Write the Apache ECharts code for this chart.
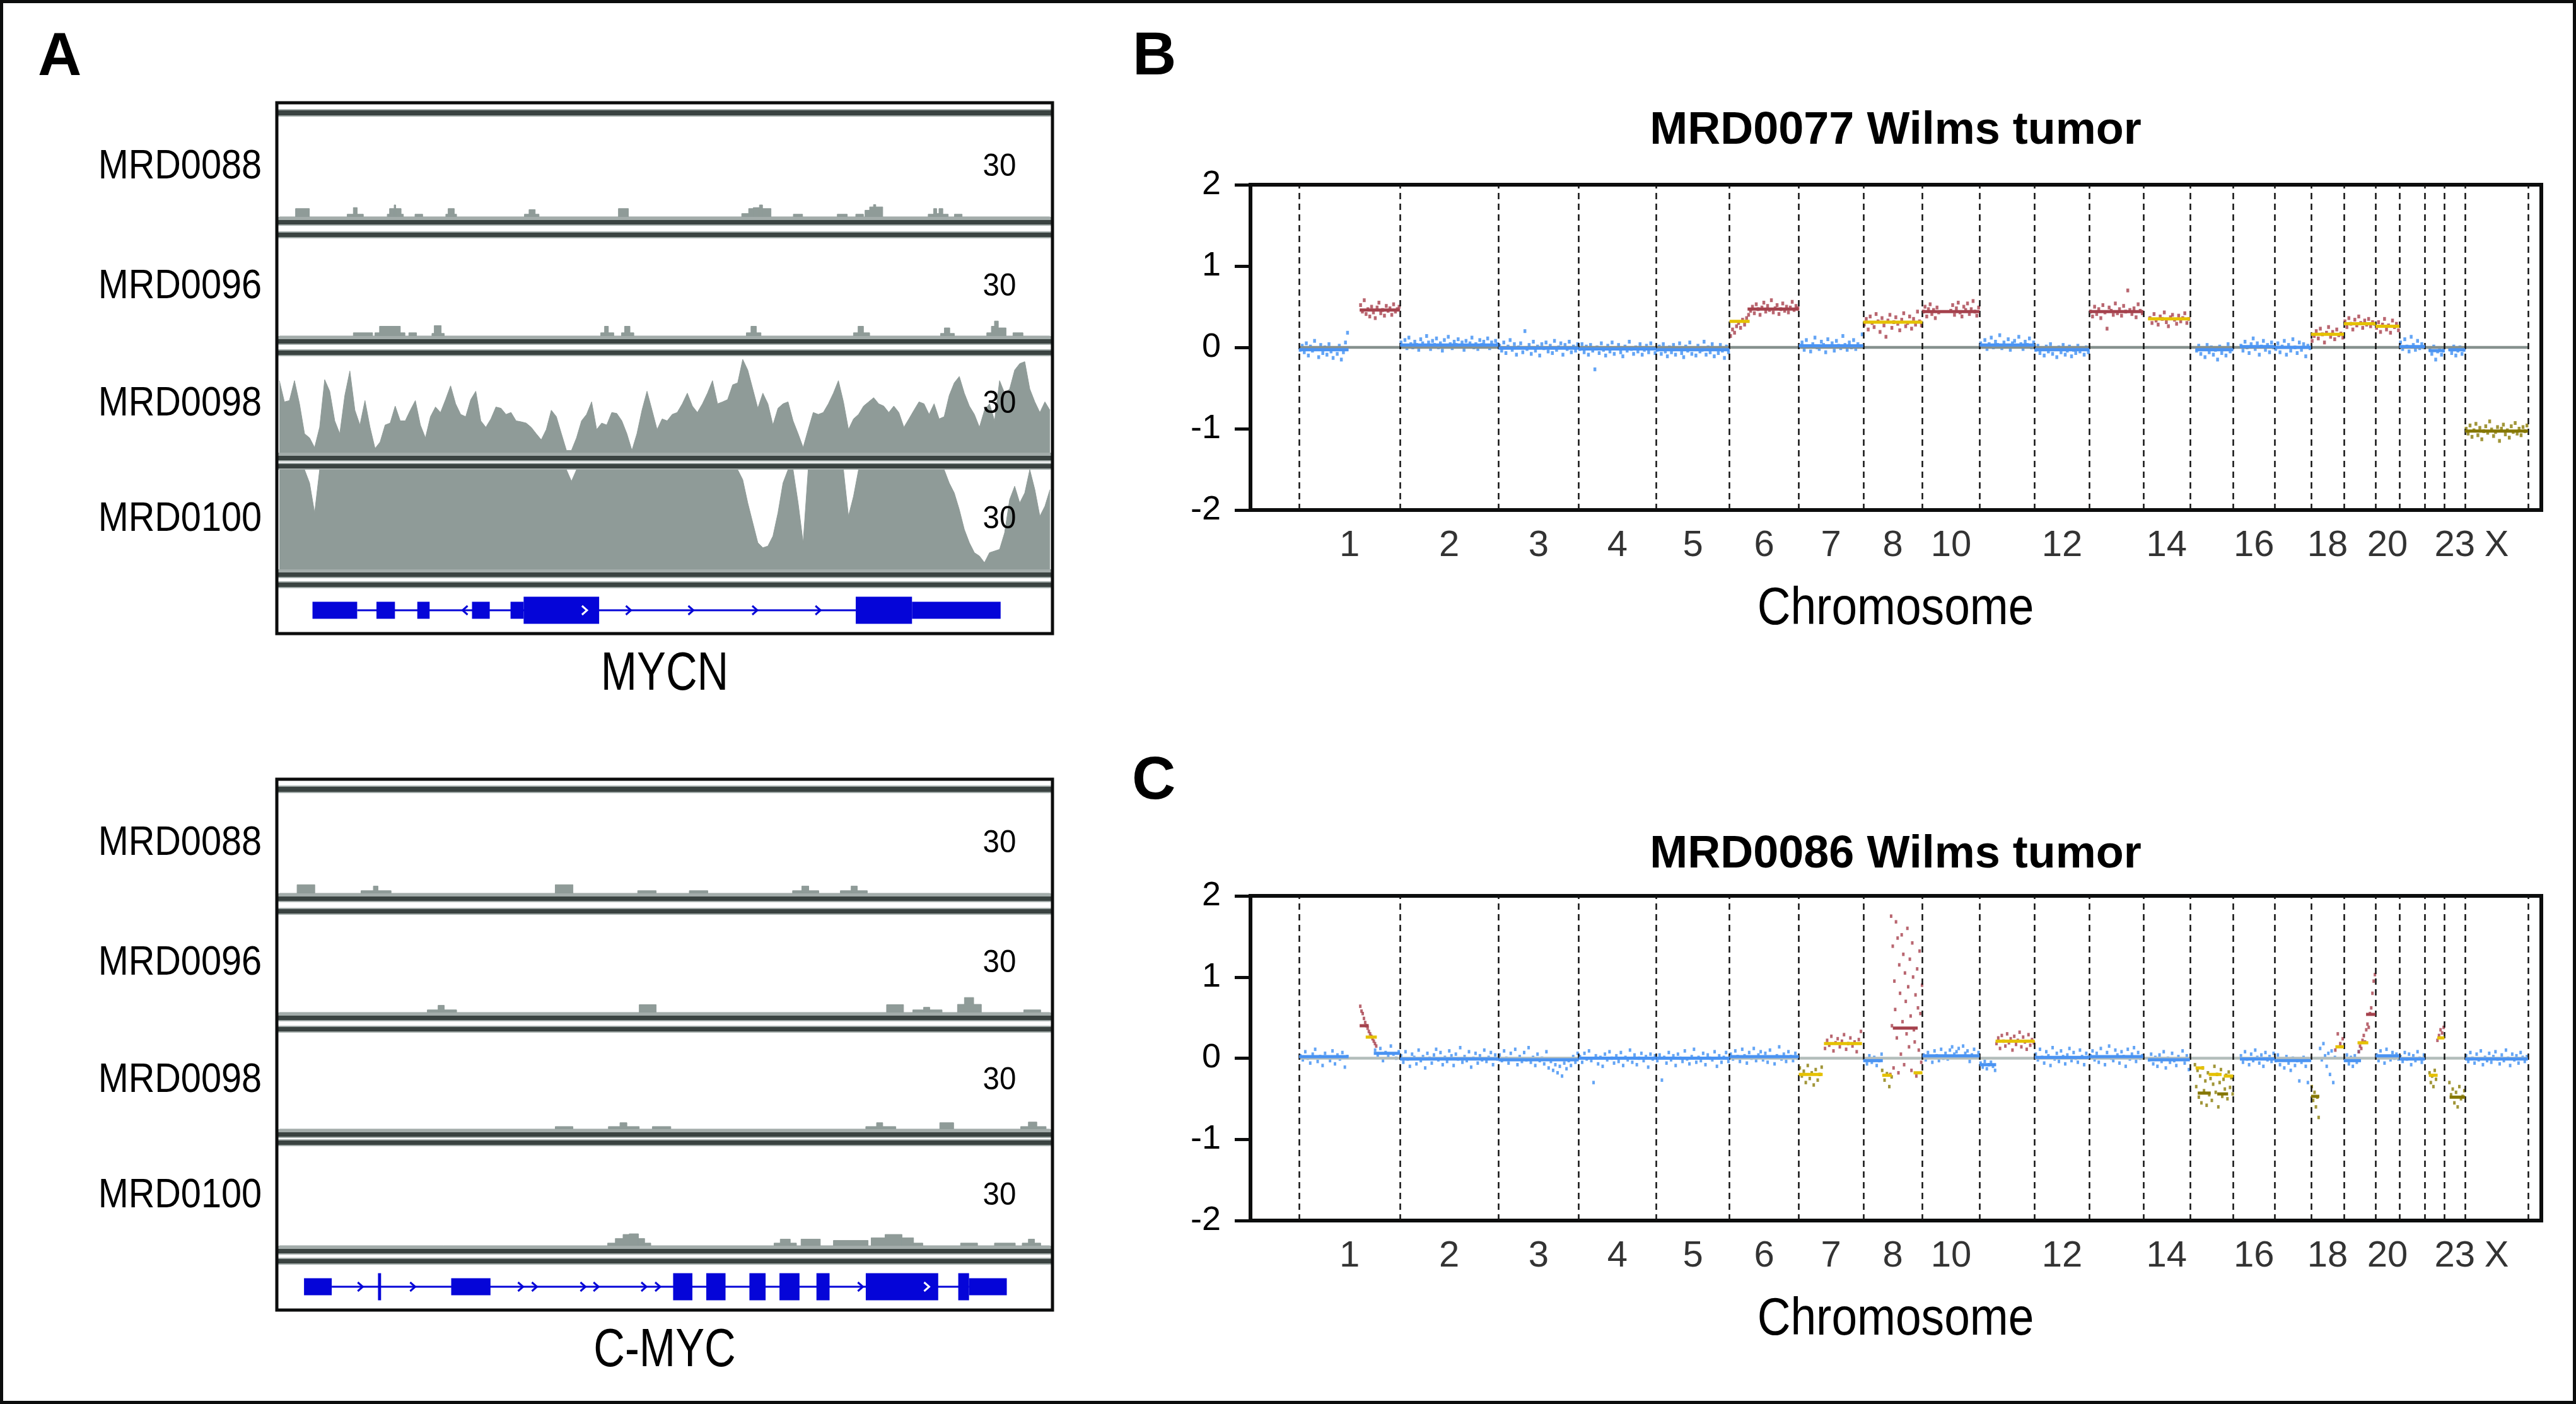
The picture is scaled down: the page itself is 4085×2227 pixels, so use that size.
<!DOCTYPE html>
<html><head><meta charset="utf-8"><title>Figure</title>
<script src="https://cdn.jsdelivr.net/npm/echarts@6.0.0/dist/echarts.min.js"></script>
<style>html,body{margin:0;padding:0;background:#fff;}#chart{width:4085px;height:2227px;}</style>
</head><body><div id="chart"></div><script>
// ================= DATA =================
// Panel A: coverage tracks (IGV, data range 0-30), x = 0..100 across the window
const trackNames = ['MRD0088', 'MRD0096', 'MRD0098', 'MRD0100'];
const scaleLabel = '30';
const geneNames = ['MYCN', 'C-MYC'];

// sparse coverage as [start, end, depth]
const mycnBumps88 = [[2.1,3.9,2.5],[8.8,9.6,0.8],[9.6,10.1,2.8],[10.1,10.9,0.8],[14.0,14.3,0.8],[14.3,14.9,2.5],[14.9,15.1,3.6],[15.1,15.8,2.5],[15.8,16.1,0.8],[17.6,18.6,0.8],[21.6,21.9,0.8],[21.9,22.7,2.5],[22.7,23.0,0.8],[31.8,32.4,0.8],[32.4,33.2,2.2],[33.2,33.7,0.8],[44.0,45.3,2.5],[60.0,60.9,1.0],[60.9,61.5,2.5],[61.5,62.3,2.8],[62.3,62.7,3.6],[62.7,63.8,2.5],[66.7,67.9,0.8],[72.4,73.7,0.8],[74.8,75.8,0.8],[76.0,76.6,2.0],[76.6,77.1,3.0],[77.1,77.4,3.7],[77.4,78.3,3.0],[84.2,84.9,0.8],[84.9,85.3,2.5],[85.3,85.6,1.0],[85.6,86.1,2.5],[86.1,86.8,0.8],[87.6,88.6,0.8]];
const mycnBumps96 = [[9.6,12.1,1.0],[12.4,13.0,1.0],[13.0,15.7,3.0],[15.7,16.3,1.0],[16.8,17.8,1.0],[19.8,20.1,0.8],[20.1,21.0,3.2],[21.0,21.4,0.8],[41.7,42.2,1.0],[42.2,42.7,3.0],[42.7,43.4,1.0],[44.4,44.8,1.0],[44.8,45.5,3.0],[45.5,46.0,1.0],[60.6,61.2,1.0],[61.2,61.9,3.0],[61.9,62.5,1.0],[74.5,75.1,1.0],[75.1,75.8,3.0],[75.8,76.6,1.0],[85.8,86.3,0.8],[86.3,87.0,2.5],[87.0,87.6,0.8],[91.8,92.4,1.0],[92.4,92.8,3.0],[92.8,93.3,4.6],[93.3,94.3,2.5],[95.2,96.5,1.0]];
// dense coverage, evenly spaced along the window
const mycnDense98 = [22.4,15.8,16.2,22.4,15.2,5.9,4.6,1.6,7.9,22.7,19.1,9.9,5.9,17.8,25.4,13.2,8.6,16.2,7.9,1.3,3.3,8.6,9.2,14.5,9.9,9.9,13.2,16.2,8.6,4.6,11.2,14.2,12.5,16.5,20.8,15.2,11.9,11.2,16.5,19.1,9.9,7.9,10.5,14.2,13.8,11.9,12.5,9.9,9.6,9.2,7.9,5.9,4.0,7.2,13.2,11.2,5.9,0.7,0.7,4.6,9.9,11.9,15.8,7.2,9.2,8.6,12.5,12.2,9.9,5.9,0.7,5.9,13.2,19.1,13.2,7.2,10.5,9.9,11.9,12.5,15.2,18.5,14.5,12.5,15.2,18.5,22.4,15.2,15.8,16.5,21.1,21.7,29.0,25.7,19.8,13.8,18.5,15.2,8.6,13.8,15.2,15.8,9.9,5.9,1.6,7.2,12.5,11.9,12.5,15.2,18.5,22.4,15.8,7.2,10.5,11.9,14.5,15.8,17.1,15.2,14.5,12.5,14.5,12.5,7.9,10.5,13.2,15.8,15.2,11.9,15.2,10.5,11.2,17.8,21.7,23.7,18.5,14.5,11.9,7.9,13.2,15.2,9.9,22.4,18.5,19.8,25.7,27.7,28.3,19.8,15.8,12.5,15.8,13.2];
const mycnDense100 = [30,30,30,30,30,30,26,17,30,30, 30,30,30,30,30,30,30,30,30,30, 30,30,30,30,30,30,30,30,30,30, 30,30,30,30,30,30,30,30,30,30, 30,30,30,30,30,30,30,30,30,30, 30,30,30,30,30,30,30,30,26.5,30, 30,30,30,30,30,30,30,30,30,30, 30,30,30,30,30,30,30,30,30,30, 30,30,30,30,30,30,30,30,30,30, 30,30,27,20,14,8,6.5,7,10,17, 26,30,30,20,8,30,30,30,30,30, 30,30,30,16,22,30,30,30,30,30, 30,30,30,30,30,30,30,30,30,30, 30,30,30,26,23,18,12,8,5,4, 2,5,5.5,6,11,21,25,20,23,30, 24,16,19,24];
const mycBumps88 = [[2.3,4.6,2.6],[10.6,12.2,0.8],[12.2,12.8,2.2],[12.8,14.5,0.8],[35.8,38.1,2.6],[46.5,48.9,0.8],[53.2,55.6,0.8],[66.6,67.8,0.8],[67.8,68.7,2.2],[68.7,70.0,0.8],[72.8,74.2,0.8],[74.2,75.0,2.2],[75.0,76.3,0.8]];
const mycBumps96 = [[19.2,20.6,0.8],[20.6,21.4,2.2],[21.4,23.0,0.8],[46.7,48.9,2.4],[78.8,81.0,2.4],[82.2,83.6,0.8],[83.6,84.4,1.6],[84.4,86.0,0.8],[88.0,88.9,2.5],[88.9,90.1,4.6],[90.1,91.1,2.5],[96.6,98.8,0.8]];
const mycBumps98 = [[35.8,38.1,0.8],[42.7,44.2,0.8],[44.2,45.1,2.0],[45.1,46.7,0.8],[48.4,50.8,0.8],[76.1,77.5,0.8],[77.5,78.3,2.0],[78.3,80.0,0.8],[85.7,87.5,2.0],[96.2,97.2,0.8],[97.2,98.3,2.2],[98.3,99.5,0.8]];
const mycBumps100 = [[42.6,43.6,0.8],[43.6,44.6,2.2],[44.6,45.4,3.4],[45.4,46.6,3.6],[46.6,47.4,2.2],[47.4,48.2,0.8],[64.2,65.0,0.8],[65.0,66.3,2.0],[66.3,67.1,0.8],[67.7,70.2,2.0],[71.9,76.4,1.6],[76.8,78.6,2.4],[78.6,80.8,3.4],[80.8,82.3,2.4],[82.3,83.5,0.8],[88.4,90.6,0.8],[92.8,95.5,0.8],[96.4,97.2,0.8],[97.2,98.0,2.0],[98.0,98.8,0.8]];

// gene models: exons [start, end, 'u'=UTR | 'c'=coding], intron span, strand arrows [pos, dir]
const mycnExons = [[4.3,10.1,'u'],[12.6,15.0,'u'],[17.9,19.5,'u'],[25.0,27.3,'u'],[30.0,31.7,'u'],[31.7,41.5,'c'],[74.8,82.1,'c'],[82.1,93.6,'u']];
const mycnIntron = [10.1, 74.8];
const mycnArrows = [[24.1,-1],[45.3,1],[53.4,1],[61.7,1],[69.9,1]];
const mycnInnerArrows = [[39.6,1]];
const mycExons = [[3.2,6.8,'u'],[12.8,13.2,'c'],[22.3,27.4,'u'],[51.1,53.6,'c'],[55.4,57.9,'c'],[61.0,63.1,'c'],[64.9,67.5,'c'],[69.7,71.4,'c'],[76.1,85.5,'c'],[88.1,89.5,'c'],[89.5,94.4,'u']];
const mycIntron = [6.8, 89.5];
const mycArrows = [[10.5,1],[17.3,1],[31.3,1],[33.1,1],[39.4,1],[41.1,1],[47.3,1],[49.1,1],[75.4,1]];
const mycInnerArrows = [[84.0,1]];

// Panels B and C: genome-wide copy number (log ratio)
const chromLen = [249,243,198,191,181,171,159,146,141,136,135,133,115,107,102,90,81,78,59,63,48,51,155];
const chromTickLabels = ['1','2','3','4','5','6','7','8','10','','12','','14','','16','','18','','20','','','23','X'];
const titleB = 'MRD0077 Wilms tumor';
const titleC = 'MRD0086 Wilms tumor';
const axisTitle = 'Chromosome';
const panelLetters = ['A', 'B', 'C'];

// segments: [chrom index, start fraction, end fraction, value, colour key]
const segB = [[0,0,0.49,-0.03,'b'],[0,0.60,1,0.46,'r'],[1,0,1,0.03,'b'],[2,0,1,-0.01,'b'],[3,0,1,-0.02,'b'],[4,0,1,-0.03,'b'],[5,0,0.29,0.32,'y'],[5,0.26,1,0.47,'r'],[6,0,1,0.02,'b'],[7,0,1,0.31,'y'],[8,0,1,0.44,'r'],[9,0,1,0.03,'b'],[10,0,1,-0.03,'b'],[11,0,1,0.44,'r'],[12,0.1,1,0.35,'y'],[13,0.13,1,-0.03,'b'],[14,0.16,1,0.01,'b'],[15,0,1,0.0,'b'],[16,0,1,0.16,'y'],[17,0,1,0.29,'y'],[18,0,1,0.26,'y'],[19,0,1,0.01,'b'],[20,0.2,1,-0.04,'b'],[21,0.2,1,-0.03,'b'],[22,0,1,-1.03,'o']];
// probe clouds: [chrom, start frac, end frac, colour key, values x100]
const cloudsB = [
 [0,0,0.49,'b',[-3,2,-6,5,-10,1,-4,8,-2,-12,3,-7,0,-9,4,-5,-13,-1,-8,2,-15,-6,6,18]],
 [0,0.60,1,'r',[52,44,58,41,47,38,50,43,36,49,55,42,46,39,51,45,48,40,53,44,47,50]],
 [1,0,1,'b',[6,2,9,-1,12,4,0,7,3,-3,10,5,1,14,6,-2,8,3,11,0,5,-4,9,2,13,4,-1,7,3,10,1,6,-3,8,2,5,12,0,4,-2,9,3,7,1,11,-1,6,2,8,4]],
 [2,0,1,'b',[2,-4,6,-7,1,9,-3,4,-9,0,5,-6,20,-2,3,-8,7,-4,1,-10,4,-1,6,-5,2,-7,8,-3,0,5,-9,3,-2,7,-6,1,-4,4]],
 [3,0,1,'b',[-2,4,-6,1,-9,3,-4,-27,0,-7,5,-3,-10,2,-5,6,-8,-1,3,-6,-11,1,-4,7,-2,-8,0,-5,4,-9,-3,2,-6,5,-1,-7]],
 [4,0,1,'b',[-3,1,-8,4,-5,-11,0,-6,3,-9,-2,5,-7,-12,1,-4,6,-8,-1,-10,2,-5,-3,7,-9,0,-6,4,-11,-2,-7,3,-4,-13,1,-6]],
 [5,0,0.29,'r',[14,22,18,26,30,24,34,28,36,40]],
 [5,0.29,1,'r',[45,50,42,53,47,40,49,55,44,51,46,58,43,48,52,41,47,54,45,50,43,49,56,46,51,48]],
 [6,0,1,'b',[2,6,-3,9,1,-5,4,12,0,-2,7,3,-6,10,1,5,-4,8,2,-1,14,3,-3,6,0,9,-2,4,1,16]],
 [7,0,1,'r',[28,35,22,38,30,25,41,32,19,36,27,13,33,40,24,31,37,29,21,34,42,26,30,38,23,35,28,44,32,27]],
 [8,0,0.3,'r',[44,50,38,47,53,41,46,36,49,43]],
 [8,0.48,1,'r',[45,52,40,48,55,43,38,50,46,54,41,47,57,44,39,49]],
 [9,0,1,'b',[5,1,9,-2,4,12,0,7,3,15,-1,6,2,10,-3,5,8,1,13,4,-2,7,3,11,0,6]],
 [10,0,1,'b',[-3,2,-7,-1,-10,1,-5,4,-8,-2,-12,0,-6,3,-9,-4,1,-11,-3,-7,2,-5,-1,-9,0,-6]],
 [11,0,1,'r',[44,38,50,41,47,36,52,43,23,49,45,40,54,42,47,39,51,44,70,46,41,48,37,53,45,42]],
 [12,0.12,1,'r',[36,30,41,33,28,38,35,43,31,26,37,40,34,29,39,32,36,42,30,35]],
 [13,0.13,1,'b',[-4,2,-8,-1,-12,3,-6,0,-9,-3,-15,1,-7,-2,-10,4,-5,-1]],
 [14,0.16,1,'b',[2,-4,7,0,-7,4,11,-2,5,-9,1,8,-3,3,-6,6,0]],
 [15,0,1,'b',[-2,5,-6,1,8,-9,3,-4,10,0,-7,6,-3,4,-11,2,-1]],
 [16,0,1,'r',[8,14,20,11,23,16,6,18,25,13,19,10,22,15,17,12]],
 [17,0,1,'r',[32,25,36,29,22,34,27,38,30,24,33,28,35,26,31,29]],
 [18,0,1,'r',[24,31,19,28,35,22,27,18,33,25,29,21]],
 [19,0,1,'b',[6,-2,10,1,-5,13,3,-3,8,-1,4,0]],
 [20,0.2,1,'b',[-3,-8,1,-15,-5,-2,-9,-4]],
 [21,0.2,1,'b',[-2,-7,1,-10,-4,0,-8,-3]],
 [22,0,1,'o',[-100,-106,-96,-110,-102,-94,-108,-99,-113,-103,-97,-105,-91,-101,-109,-104,-98,-115,-100,-95,-107,-102,-111,-97,-104,-93,-106,-100,-108,-98,-103,-96]]
];
const segC = [[0,0,0.49,0.02,'b'],[0,0.60,0.69,0.40,'r'],[0,0.66,0.77,0.26,'y'],[0,0.74,1,0.06,'b'],[1,0,1,-0.01,'b'],[2,0,1,-0.02,'b'],[3,0,1,0.0,'b'],[4,0,1,0.0,'b'],[5,0,1,0.02,'b'],[6,0,0.37,-0.2,'y'],[6,0.39,0.98,0.18,'y'],[7,0,0.33,-0.03,'b'],[7,0.32,0.48,-0.21,'y'],[7,0.5,0.92,0.37,'r'],[7,0.85,1,-0.18,'y'],[8,0,1,0.03,'b'],[9,0,0.3,-0.08,'b'],[9,0.29,1,0.21,'y'],[10,0,1,0.01,'b'],[11,0,1,0.02,'b'],[12,0.1,1,-0.02,'b'],[13,0.13,0.33,-0.12,'y'],[13,0.43,0.73,-0.2,'y'],[13,0.78,1,-0.22,'y'],[13,0.18,0.48,-0.43,'o'],[13,0.63,0.88,-0.44,'o'],[14,0.16,1,-0.01,'b'],[15,0,1,-0.03,'b'],[16,0,0.25,-0.47,'o'],[16,0.74,1,0.14,'y'],[17,0,0.54,-0.03,'b'],[17,0.43,0.77,0.19,'y'],[17,0.70,1,0.54,'r'],[18,0,1,0.03,'b'],[19,0,1,-0.01,'b'],[20,0.2,0.65,-0.21,'y'],[20,0.63,1,0.25,'y'],[21,0.25,1,-0.48,'o'],[22,0,1,-0.01,'b']];
const cloudsC = [
 [0,0,0.49,'b',[3,-2,8,0,-6,5,11,-4,2,-9,6,1,-3,9,-7,4,-1,7,-11,2]],
 [0,0.6,0.77,'r',[64,58,55,49,44,40,37,33,30,27,24,21,18,15]],
 [0,0.74,1,'b',[10,4,12,-3,7,2,15,5,0,8]],
 [1,0,1,'b',[3,-5,8,-1,-10,5,1,-7,10,-3,2,-12,6,0,-6,4,11,-2,7,-8,1,-4,9,3,-9,5,-1,13,-5,2,-3,8,-11,0,6,-6,3,-2,10,-4,1,7,-8,4,-1]],
 [2,0,1,'b',[4,-3,9,0,-6,6,-1,11,-8,2,-4,7,-2,13,-5,1,-9,5,-3,0,-7,8,-12,-4,-15,-8,-18,-10,-22,-6,-13,-3,-9,2,-5,6]],
 [3,0,1,'b',[2,-5,6,-1,9,-3,-30,3,-7,1,-10,5,-2,8,0,-6,3,-4,7,-9,1,-2,10,-5,4,-8,0,6,-3,2,-11,5,-1,3]],
 [4,0,1,'b',[-3,4,-27,1,-6,7,-2,3,-9,5,0,-4,9,-1,-7,2,11,-5,1,-3,6,-8,4,0,-2,8,-10,3,-5,1,7,-4]],
 [5,0,1,'b',[5,-1,9,2,-4,11,3,-6,7,0,12,-3,4,8,-2,6,-5,10,1,-7,3,14,-1,5,-4,8,2,-3,6,0]],
 [6,0,0.37,'o',[-12,-22,-16,-30,-9,-25,-18,-33,-14,-27,-20,-11]],
 [6,0.39,0.98,'r',[12,22,16,27,9,19,24,14,21,29,11,18,25,15,20,8,23,33]],
 [7,0,0.33,'b',[-2,-7,3,-5,1,-9,-3,5]],
 [7,0.3,0.5,'o',[-15,-27,-19,-35,-23]],
 [7,0.45,1,'r',[-20,175,40,138,-12,95,60,168,25,148,-18,115,80,5,152,45,128,-8,105,70,30,160,88,14,122,52,-15,142,100,35,20,78,-22,110,62,10,132,55,-5,90]],
 [8,0,1,'b',[4,-2,7,1,-5,9,3,-3,11,0,6,-1,10,14,5,8,12,2,15,6,9,-4,4,11,1,7]],
 [9,0,0.3,'b',[-6,-11,-4,-13,-8,-5,-10,-15]],
 [9,0.29,1,'r',[18,25,12,28,21,15,30,19,24,10,27,17,22,32,14,26,20,11,29,16,23,19]],
 [10,0,1,'b',[5,-2,11,1,-6,8,3,-9,13,-1,6,-4,9,2,-7,4,12,-3,7,0,-5,10,2,-8,6,1]],
 [11,0,1,'b',[3,9,-2,6,-5,12,1,-8,7,15,0,-3,10,4,-6,8,2,-10,11,-1,5,13,-4,7,0,3]],
 [12,0.1,1,'b',[-2,5,-7,1,-10,4,-4,8,-12,0,-5,6,-3,-9,2,-1,9,-6,3,-14]],
 [13,0.1,1,'o',[-8,-35,-15,-48,-22,-55,-12,-40,-28,-58,-18,-45,-25,-52,-32,-10,-42,-20,-60,-30,-14,-47,-26,-38,-21,-50,-17,-36,-24,-44]],
 [14,0.16,1,'b',[3,-5,8,-1,-8,5,-3,10,1,-6,4,-10,7,-2,2,-4,6]],
 [15,0,1,'b',[-3,4,-8,-1,-12,2,-6,-15,0,-9,-3,-28,-5,1,-10,-30,-2]],
 [16,0,0.25,'o',[-35,-52,-42,-60,-48,-73]],
 [16,0.25,0.75,'b',[12,-2,18,3,-10,6,-20,9,-30,1]],
 [16,0.7,1,'r',[10,30,18,24]],
 [17,0,0.5,'b',[-2,4,-7,1,-10,3,-5,8]],
 [17,0.45,1,'r',[8,15,12,22,28,20,35,42,38,55,62,80,95,103]],
 [18,0,1,'b',[4,-3,9,1,-6,11,2,-2,7,0,5,-1]],
 [19,0,1,'b',[2,-4,7,-1,5,-8,3,-3,8,0,-5,4]],
 [20,0.2,0.6,'o',[-18,-30,-22,-35,-15,-26]],
 [20,0.6,1,'r',[22,28,35,31,38]],
 [21,0.2,1,'o',[-30,-45,-38,-55,-42,-60,-35,-50,-47,-40]],
 [22,0,1,'b',[3,-4,7,0,-6,5,-2,9,-8,1,-3,6,-5,2,8,-1,-7,4,-3,10,0,-9,5,-2,3,-6,7,1,-4,2]]
];

// ================= STYLE / LAYOUT =================
const FONT = '"Liberation Sans", Arial, sans-serif';
const INK = '#0c0d0d';
const COV_GRAY = '#8f9b98';
const SEP_DARK = '#3a4341', SEP_LIGHT = '#a3acaa';
const GENE_BLUE = '#0505d8';
const PT_COLORS = {b:'#3d8ef3', r:'#a8404c', o:'#8a7c08'};
const SEG_KEYS = ['b','r','y','o'];
const SEG_COLORS = ['#4a93f2', '#a5424d', '#e5c100', '#857600'];
const PT_SIZES = [[4.5, 6], [4, 5.5]];

const A_OFF = [0, 1073];
const TR_TOP = [186, 378, 565, 745], TR_BOT = [344, 533, 718, 903];
const GENE_TOP = 933, GENE_BOT = 1003, FR_T = 163, FR_B = 1005, FR_L = 439, FR_R = 1669;
const TR_L = 443, TR_W = 1222;
const CN_LEFT = 1983, CN_W = 2047, CN_TOPS = [293, 1421], CN_H = [516, 515];
const CN_XMIN = -120, CN_XMAX = 3065;

// ================= BUILD =================
const cum = []; { let s = 0; chromLen.forEach(l => { cum.push(s); s += l; }); cum.push(s); }
const GENOME_END = cum[cum.length - 1];

const grids = [], xAxes = [], yAxes = [], series = [], G = [];

function bumpsToSteps(b) {
  const d = [[0, 0]];
  b.forEach(([s, e, h]) => { d.push([s, 0], [s, h], [e, h], [e, 0]); });
  d.push([100, 0]);
  return d;
}
function denseToPoints(a) { return a.map((v, i) => [i * 100 / (a.length - 1), v]); }

function geneRender(params, api) {
  const k = api.value(0), dir = api.value(3);
  const a = api.coord([api.value(1), 0.5]), b = api.coord([api.value(2), 0.5]);
  const y = a[1];
  if (k === 0) return {type:'line', shape:{x1:a[0], y1:y, x2:b[0], y2:y}, style:{stroke:GENE_BLUE, lineWidth:3}};
  if (k === 1 || k === 2) {
    const h = k === 2 ? 43 : 27;
    return {type:'rect', shape:{x:a[0], y:y - h / 2, width:Math.max(b[0] - a[0], 4), height:h}, style:{fill:GENE_BLUE}};
  }
  const s = 7, w = 4;
  return {type:'polyline', shape:{points:[[a[0] - dir * w, y - s], [a[0] + dir * w, y], [a[0] - dir * w, y + s]]},
    style:{stroke: k === 4 ? '#ffffff' : GENE_BLUE, lineWidth: 3, fill: null}};
}
function geneData(exons, intron, arrows, inner) {
  const d = [[0, intron[0], intron[1], 0]];
  exons.forEach(([s, e, t]) => d.push([t === 'c' ? 2 : 1, s, e, 0]));
  arrows.forEach(([x, dir]) => d.push([3, x, x, dir]));
  inner.forEach(([x, dir]) => d.push([4, x, x, dir]));
  return d;
}

const coverage = [
  [bumpsToSteps(mycnBumps88), bumpsToSteps(mycnBumps96), denseToPoints(mycnDense98), denseToPoints(mycnDense100)],
  [bumpsToSteps(mycBumps88), bumpsToSteps(mycBumps96), bumpsToSteps(mycBumps98), bumpsToSteps(mycBumps100)]
];
const genes = [
  geneData(mycnExons, mycnIntron, mycnArrows, mycnInnerArrows),
  geneData(mycExons, mycIntron, mycArrows, mycInnerArrows)
];

function txt(text, x, y, align, font, sx) {
  G.push({type:'text', x, y, scaleX: sx || 1, silent:true, z:120,
    style:{text, font, fill:'#000', textAlign:align, textVerticalAlign:'middle', align, verticalAlign:'middle'}});
}

// ---- Panel A ----
A_OFF.forEach((off, g) => {
  for (let t = 0; t < 4; t++) {
    const gi = grids.length;
    grids.push({left:TR_L, top:TR_TOP[t] + off, width:TR_W, height:TR_BOT[t] - TR_TOP[t]});
    xAxes.push({gridIndex:gi, type:'value', min:0, max:100, show:false});
    yAxes.push({gridIndex:gi, type:'value', min:0, max:30, show:false});
    series.push({type:'line', xAxisIndex:gi, yAxisIndex:gi, data:coverage[g][t], symbol:'none', showSymbol:false,
      lineStyle:{color:COV_GRAY, width:1}, areaStyle:{color:COV_GRAY, opacity:1}, silent:true, z:2});
  }
  const gi = grids.length;
  grids.push({left:TR_L, top:GENE_TOP + off, width:TR_W, height:GENE_BOT - GENE_TOP});
  xAxes.push({gridIndex:gi, type:'value', min:0, max:100, show:false});
  yAxes.push({gridIndex:gi, type:'value', min:0, max:1, show:false});
  series.push({type:'custom', xAxisIndex:gi, yAxisIndex:gi, data:genes[g], renderItem:geneRender, silent:true, z:3});

  // separators
  const band = (y0, y1) => G.push({type:'rect', silent:true, z:90, shape:{x:FR_L, y:y0 + off, width:FR_R - FR_L, height:y1 - y0}, style:{fill:SEP_DARK, stroke:SEP_LIGHT, lineWidth:2}});
  const thin = (y0, y1) => G.push({type:'rect', silent:true, z:90, shape:{x:FR_L, y:y0 + off, width:FR_R - FR_L, height:y1 - y0}, style:{fill:SEP_LIGHT}});
  band(TR_TOP[0] - 12, TR_TOP[0] - 2);
  for (let t = 0; t < 4; t++) {
    const b = TR_BOT[t], n = t < 3 ? TR_TOP[t + 1] : GENE_TOP;
    thin(b, b + 4); band(b + 4, b + 13); band(n - 10, n - 1);
  }
  G.push({type:'rect', silent:true, z:95, shape:{x:FR_L, y:FR_T + off, width:FR_R - FR_L, height:FR_B - FR_T}, style:{fill:'none', stroke:INK, lineWidth:5}});
  trackNames.forEach((nm, t) => {
    const yc = (TR_TOP[t] + TR_BOT[t]) / 2 + off;
    txt(nm, 415, yc, 'right', '64px ' + FONT, 0.9);
    txt(scaleLabel, 1585, yc, 'center', '50px ' + FONT, 0.95);
  });
  txt(geneNames[g], 1054, 1070 + off, 'center', '86px ' + FONT, 0.8);
});

// ---- Panels B, C ----
function segRender(params, api) {
  const a = api.coord([api.value(0), api.value(2)]);
  const b = api.coord([api.value(1), api.value(2)]);
  return {type:'line', shape:{x1:a[0], y1:a[1], x2:b[0], y2:b[1]}, style:{stroke:SEG_COLORS[api.value(3)], lineWidth:5}};
}
const cnTitles = [titleB, titleC];
const cnTitleY = [208, 1356];
[[segB, cloudsB, '#86918e'], [segC, cloudsC, '#b3bdbb']].forEach(([segs, clouds, zeroColor], p) => {
  const gi = grids.length;
  grids.push({left:CN_LEFT, top:CN_TOPS[p], width:CN_W, height:CN_H[p], show:true, borderColor:INK, borderWidth:6, backgroundColor:'transparent'});
  xAxes.push({gridIndex:gi, type:'value', min:CN_XMIN, max:CN_XMAX, axisLine:{show:false}, axisTick:{show:false}, axisLabel:{show:false}, splitLine:{show:false}});
  yAxes.push({gridIndex:gi, type:'value', min:-2, max:2, interval:1, axisLine:{show:true, onZero:false, lineStyle:{color:INK, width:6}},
    axisTick:{show:true, length:25, lineStyle:{color:INK, width:5}}, axisLabel:{margin:47, fontFamily:FONT, fontSize:54, color:'#000'}, splitLine:{show:false}});
  const pts = {b:[], r:[], o:[]};
  clouds.forEach(([c, f0, f1, col, vals]) => {
    vals.forEach((v, i) => pts[col].push([cum[c] + chromLen[c] * (f0 + (f1 - f0) * (i + 0.5) / vals.length), v / 100]));
  });
  ['b', 'r', 'o'].forEach(k => series.push({type:'scatter', xAxisIndex:gi, yAxisIndex:gi, data:pts[k], symbol:'rect', symbolSize:PT_SIZES[p],
    itemStyle:{color:PT_COLORS[k]}, silent:true, z:3}));
  series.push({type:'line', xAxisIndex:gi, yAxisIndex:gi, data:[[cum[0], 0], [GENOME_END, 0]], symbol:'none', showSymbol:false,
    lineStyle:{color:zeroColor, width:4.5}, silent:true, z:4,
    markLine:{silent:true, symbol:['none', 'none'], label:{show:false}, animation:false,
      lineStyle:{type:[10, 7], color:'#111', width:2.5}, emphasis:{disabled:true},
      data:cum.map(b => ({xAxis:b}))}});
  series.push({type:'custom', xAxisIndex:gi, yAxisIndex:gi, silent:true, z:5, encode:{x:[0, 1], y:2},
    data:segs.map(([c, f0, f1, v, col]) => [cum[c] + chromLen[c] * f0, cum[c] + chromLen[c] * f1, v, SEG_KEYS.indexOf(col)]),
    renderItem:segRender});
  series.push({type:'scatter', xAxisIndex:gi, yAxisIndex:gi, symbolSize:1, itemStyle:{color:'rgba(0,0,0,0)'}, silent:true, clip:false, z:6,
    data:chromTickLabels.map((t, i) => ({name:t, value:[cum[i] + chromLen[i] / 2, -2]})).filter(d => d.name),
    label:{show:true, position:'inside', offset:[0, 57], formatter:'{b}', fontFamily:FONT, fontSize:58, color:'#000'}});
  txt(cnTitles[p], 3006, cnTitleY[p], 'center', 'bold 72px ' + FONT);
  txt(axisTitle, 3006, CN_TOPS[p] + CN_H[p] + 158, 'center', '84px ' + FONT, 0.87);
});

// panel letters & outer border
txt(panelLetters[0], 60, 93, 'left', 'bold 96px ' + FONT);
txt(panelLetters[1], 1796, 92, 'left', 'bold 96px ' + FONT);
txt(panelLetters[2], 1795, 1241, 'left', 'bold 96px ' + FONT);
G.push({type:'rect', silent:true, z:100, shape:{x:2.5, y:2.5, width:4080, height:2222}, style:{fill:'none', stroke:INK, lineWidth:5}});

const chart = echarts.init(document.getElementById('chart'), null, {renderer:'canvas'});
chart.setOption({animation:false, backgroundColor:'#ffffff', grid:grids, xAxis:xAxes, yAxis:yAxes, series, graphic:{elements:G}});
</script></body></html>
